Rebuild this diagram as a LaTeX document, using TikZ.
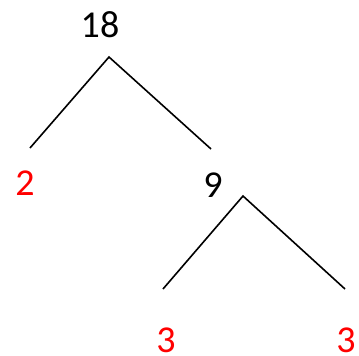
\documentclass[tikz,border=0pt]{standalone}
\usepackage{fontspec}
\setmainfont{Carlito}
\definecolor{numred}{RGB}{255,0,0}
\begin{document}
\begin{tikzpicture}[x=1pt,y=-1pt,
  num/.style={inner sep=0pt,font=\fontsize{38}{40}\selectfont},
  prime/.style={num,text=numred},
  branch/.style={line width=1.6pt,black}]
\useasboundingbox (0,0) rectangle (359,356);
\node[num] (n18) at (100,25) {18};
\node[prime] (n2) at (25,183) {2};
\node[num] (n9) at (213,185) {9};
\node[prime] (n3a) at (166,340) {3};
\node[prime] (n3b) at (346,340) {3};
\coordinate (a1) at (109,57);
\coordinate (l1) at (30,148);
\coordinate (r1) at (211,149);
\coordinate (a2) at (243,196);
\coordinate (l2) at (163,289);
\coordinate (r2) at (345,289);
\draw[branch] (l1) -- (a1) -- (r1);
\draw[branch] (l2) -- (a2) -- (r2);
\end{tikzpicture}
\end{document}
